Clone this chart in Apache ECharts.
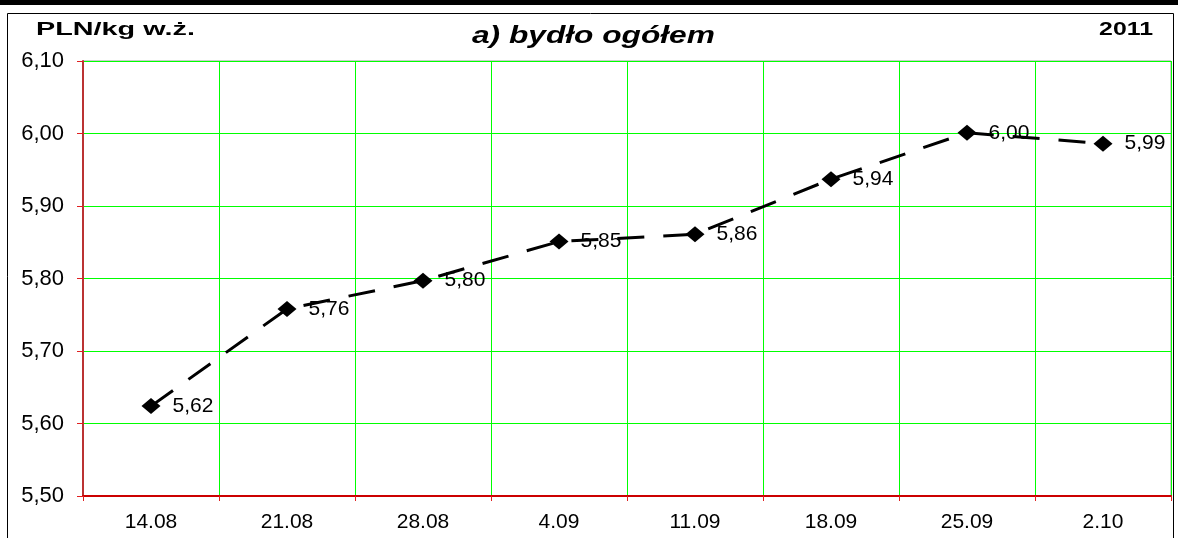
<!DOCTYPE html>
<html>
<head>
<meta charset="utf-8">
<style>
  html, body { margin: 0; padding: 0; background: #fff; }
  #chart { width: 1178px; height: 538px; }
</style>
<script src="https://cdn.jsdelivr.net/npm/echarts@6/dist/echarts.min.js"></script>
</head>
<body>
<div id="chart"></div>
<script>
// dates of the weekly quotations
const categories = ['14.08', '21.08', '28.08', '4.09', '11.09', '18.09', '25.09', '2.10']
// prices PLN/kg live weight
const prices = [5.624, 5.758, 5.797, 5.851, 5.861, 5.937, 6.001, 5.986]
const yTicks = { min: 5.5, max: 6.1, step: 0.1 }

const font = 'Arial, "Liberation Sans", sans-serif'
const comma = v => Number(v).toFixed(2).replace('.', ',')
const gridGreen = '#00ff00'

const chart = echarts.init(document.getElementById('chart'))

chart.setOption({
  animation: false,
  textStyle: { fontFamily: font },
  grid: { left: 83, right: 7, top: 61, bottom: 42, show: true, borderColor: '#999', borderWidth: 1 },
  graphic: [
    { type: 'rect', shape: { x: 0, y: 0, width: 1178, height: 5 }, style: { fill: '#000' } },
    { type: 'rect', shape: { x: 7.5, y: 13.5, width: 1166, height: 540 }, style: { fill: 'none', stroke: '#000', lineWidth: 1 } },
    // header texts, stretched a bit like in the original
    { type: 'text', x: 36, y: 21, scaleX: 1.6, style: { text: 'PLN/kg w.ż.', font: 'bold 18px ' + font, fill: '#000', verticalAlign: 'top' } },
    { type: 'text', x: 1153, y: 21, scaleX: 1.38, style: { text: '2011', font: 'bold 18px ' + font, fill: '#000', align: 'right', verticalAlign: 'top' } },
    { type: 'text', x: 472, y: 24, scaleX: 1.32, style: { text: 'a) bydło ogółem', font: 'italic bold 24px ' + font, fill: '#000', verticalAlign: 'top' } }
  ],
  xAxis: {
    type: 'category',
    data: categories,
    boundaryGap: true,
    axisLine: { lineStyle: { color: '#cc0000', width: 2 } },
    axisTick: { show: true, length: 5, lineStyle: { color: '#e02020' } },
    axisLabel: { color: '#000', fontSize: 21, margin: 16 },
    splitLine: { show: true, lineStyle: { color: gridGreen, width: 1, opacity: 1 } }
  },
  yAxis: {
    type: 'value',
    min: yTicks.min,
    max: yTicks.max,
    interval: yTicks.step,
    axisLine: { show: true, lineStyle: { color: '#bb3333', width: 2 } },
    axisTick: { show: true, length: 6, lineStyle: { color: '#e02020' } },
    axisLabel: { color: '#000', fontSize: 22, margin: 19, formatter: comma },
    splitLine: { show: true, lineStyle: { color: gridGreen, width: 1, opacity: 1 } }
  },
  series: [
    {
      type: 'line',
      data: prices,
      symbol: 'diamond',
      symbolSize: [19, 16],
      itemStyle: { color: '#000' },
      lineStyle: { color: '#000', width: 3, type: [27, 19] },
      label: {
        show: true,
        position: 'right',
        distance: 12,
        color: '#000',
        fontSize: 21,
        formatter: p => comma(p.value)
      }
    }
  ]
})
</script>
</body>
</html>
